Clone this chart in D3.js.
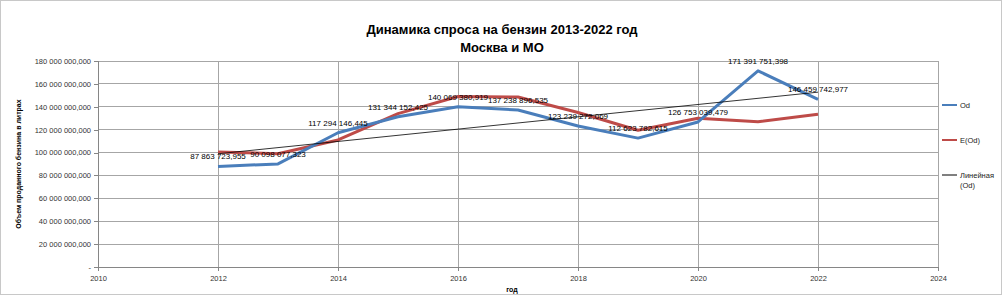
<!DOCTYPE html>
<html>
<head>
<meta charset="utf-8">
<script src="https://cdn.jsdelivr.net/npm/d3@7"></script>
<style>
  body { margin: 0; background: #fff; }
  svg text { font-family: "Liberation Sans", Arial, sans-serif; }
</style>
</head>
<body>
<div id="chart"></div>
<script>
// Данные: годы и значения
const years = [2012, 2013, 2014, 2015, 2016, 2017, 2018, 2019, 2020, 2021, 2022];
const od = [87863723.955, 90098077.323, 117294146.445, 131344152.425, 140069380.919, 137238896.535,
            123239272.069, 112623782.615, 126753039.479, 171391751.398, 146459742.977];
const eod = [100500000, 99000000, 111000000, 134000000, 149000000, 148500000,
             135000000, 119500000, 130000000, 127000000, 133500000];
const yTicks = [0, 20e6, 40e6, 60e6, 80e6, 100e6, 120e6, 140e6, 160e6, 180e6];
const xTicks = [2010, 2012, 2014, 2016, 2018, 2020, 2022, 2024];
const legendItems = [
  { name: 'Od', color: '#4a7ebb' },
  { name: 'E(Od)', color: '#be4b48' },
  { name: 'Линейная|(Od)', color: '#000' }
];

const W = 1003, H = 296;
const margin = { top: 61, right: 65, bottom: 29, left: 98 };

const svg = d3.select('#chart').append('svg')
  .attr('width', W).attr('height', H);

// рамка диаграммы
svg.append('rect')
  .attr('x', 0.5).attr('y', 0.5)
  .attr('width', W - 2).attr('height', H - 2)
  .attr('fill', '#fff').attr('stroke', '#c8c8c8');

const x = d3.scaleLinear().domain([2010, 2024]).range([margin.left, W - margin.right]);
const y = d3.scaleLinear().domain([0, 180e6]).range([H - margin.bottom, margin.top]);

const fmt = v => {
  const s = d3.format(',.3f')(v);
  return s.replace(/,/g, ' ').replace('.', ',');
};

// сетка
svg.append('g')
  .selectAll('line').data(yTicks.slice(1)).join('line')
  .attr('x1', x(2010)).attr('x2', x(2024))
  .attr('y1', d => y(d)).attr('y2', d => y(d))
  .attr('stroke', '#a6a6a6').attr('stroke-width', 1)
  .attr('shape-rendering', 'crispEdges');

svg.append('g')
  .selectAll('line').data(xTicks.slice(1)).join('line')
  .attr('x1', d => x(d)).attr('x2', d => x(d))
  .attr('y1', y(0)).attr('y2', y(180e6))
  .attr('stroke', '#a6a6a6').attr('stroke-width', 1)
  .attr('shape-rendering', 'crispEdges');

// оси
const yAxis = svg.append('g')
  .attr('transform', `translate(${x(2010)},0)`)
  .call(d3.axisLeft(y).tickValues(yTicks).tickSize(4)
    .tickFormat(d => d === 0 ? '-' : fmt(d)));
const xAxis = svg.append('g')
  .attr('transform', `translate(0,${y(0)})`)
  .call(d3.axisBottom(x).tickValues(xTicks).tickSize(4).tickFormat(d3.format('d')));

[yAxis, xAxis].forEach(g => {
  g.select('.domain').attr('stroke', '#868686').attr('shape-rendering', 'crispEdges');
  g.selectAll('.tick line').attr('stroke', '#868686').attr('shape-rendering', 'crispEdges');
  g.selectAll('text').attr('fill', '#333').style('font-size', '7.5px');
});
yAxis.selectAll('text').attr('x', -7);
xAxis.selectAll('text').attr('y', 9);

// линии
const line = d3.line().x((d, i) => x(years[i])).y(d => y(d));

svg.append('path').datum(eod)
  .attr('d', line).attr('fill', 'none')
  .attr('stroke', '#be4b48').attr('stroke-width', 3).attr('stroke-linejoin', 'round');

svg.append('path').datum(od)
  .attr('d', line).attr('fill', 'none')
  .attr('stroke', '#4a7ebb').attr('stroke-width', 3).attr('stroke-linejoin', 'round');

// линейный тренд по Od
const mx = d3.mean(years), my = d3.mean(od);
const slope = d3.sum(years, (t, i) => (t - mx) * (od[i] - my)) / d3.sum(years, t => (t - mx) ** 2);
const trend = t => my + slope * (t - mx);
svg.append('line')
  .attr('x1', x(2012)).attr('y1', y(trend(2012)))
  .attr('x2', x(2022)).attr('y2', y(trend(2022)))
  .attr('stroke', '#000').attr('stroke-width', 0.8);

// подписи значений
svg.append('g')
  .selectAll('text').data(od).join('text')
  .attr('x', (d, i) => x(years[i]))
  .attr('y', d => y(d) - 7)
  .attr('text-anchor', 'middle')
  .style('font-size', '8px')
  .attr('fill', '#000')
  .text(d => fmt(d));

// заголовок
svg.append('text')
  .attr('x', 502).attr('y', 34)
  .attr('text-anchor', 'middle')
  .style('font-size', '13px').style('font-weight', 'bold')
  .text('Динамика спроса на бензин 2013-2022 год');
svg.append('text')
  .attr('x', 502).attr('y', 52)
  .attr('text-anchor', 'middle')
  .style('font-size', '13px').style('font-weight', 'bold')
  .text('Москва и МО');

// подписи осей
svg.append('text')
  .attr('transform', `translate(21,${(y(0) + y(180e6)) / 2}) rotate(-90)`)
  .attr('text-anchor', 'middle')
  .style('font-size', '7px').style('font-weight', 'bold')
  .text('Объем проданного бензина в литрах');
svg.append('text')
  .attr('x', 512).attr('y', 292)
  .attr('text-anchor', 'middle')
  .style('font-size', '7px').style('font-weight', 'bold')
  .text('год');

// легенда
const legend = svg.append('g');
legendItems.forEach((d, i) => {
  const ly = 105 + i * 35;
  legend.append('line')
    .attr('x1', 942).attr('x2', 957).attr('y1', ly).attr('y2', ly)
    .attr('stroke', d.color).attr('stroke-width', i === 2 ? 1 : 2);
  d.name.split('|').forEach((s, j) => {
    legend.append('text')
      .attr('x', 960).attr('y', ly + 3 + j * 10)
      .style('font-size', '7.5px').attr('fill', '#222')
      .text(s);
  });
});
</script>
</body>
</html>
